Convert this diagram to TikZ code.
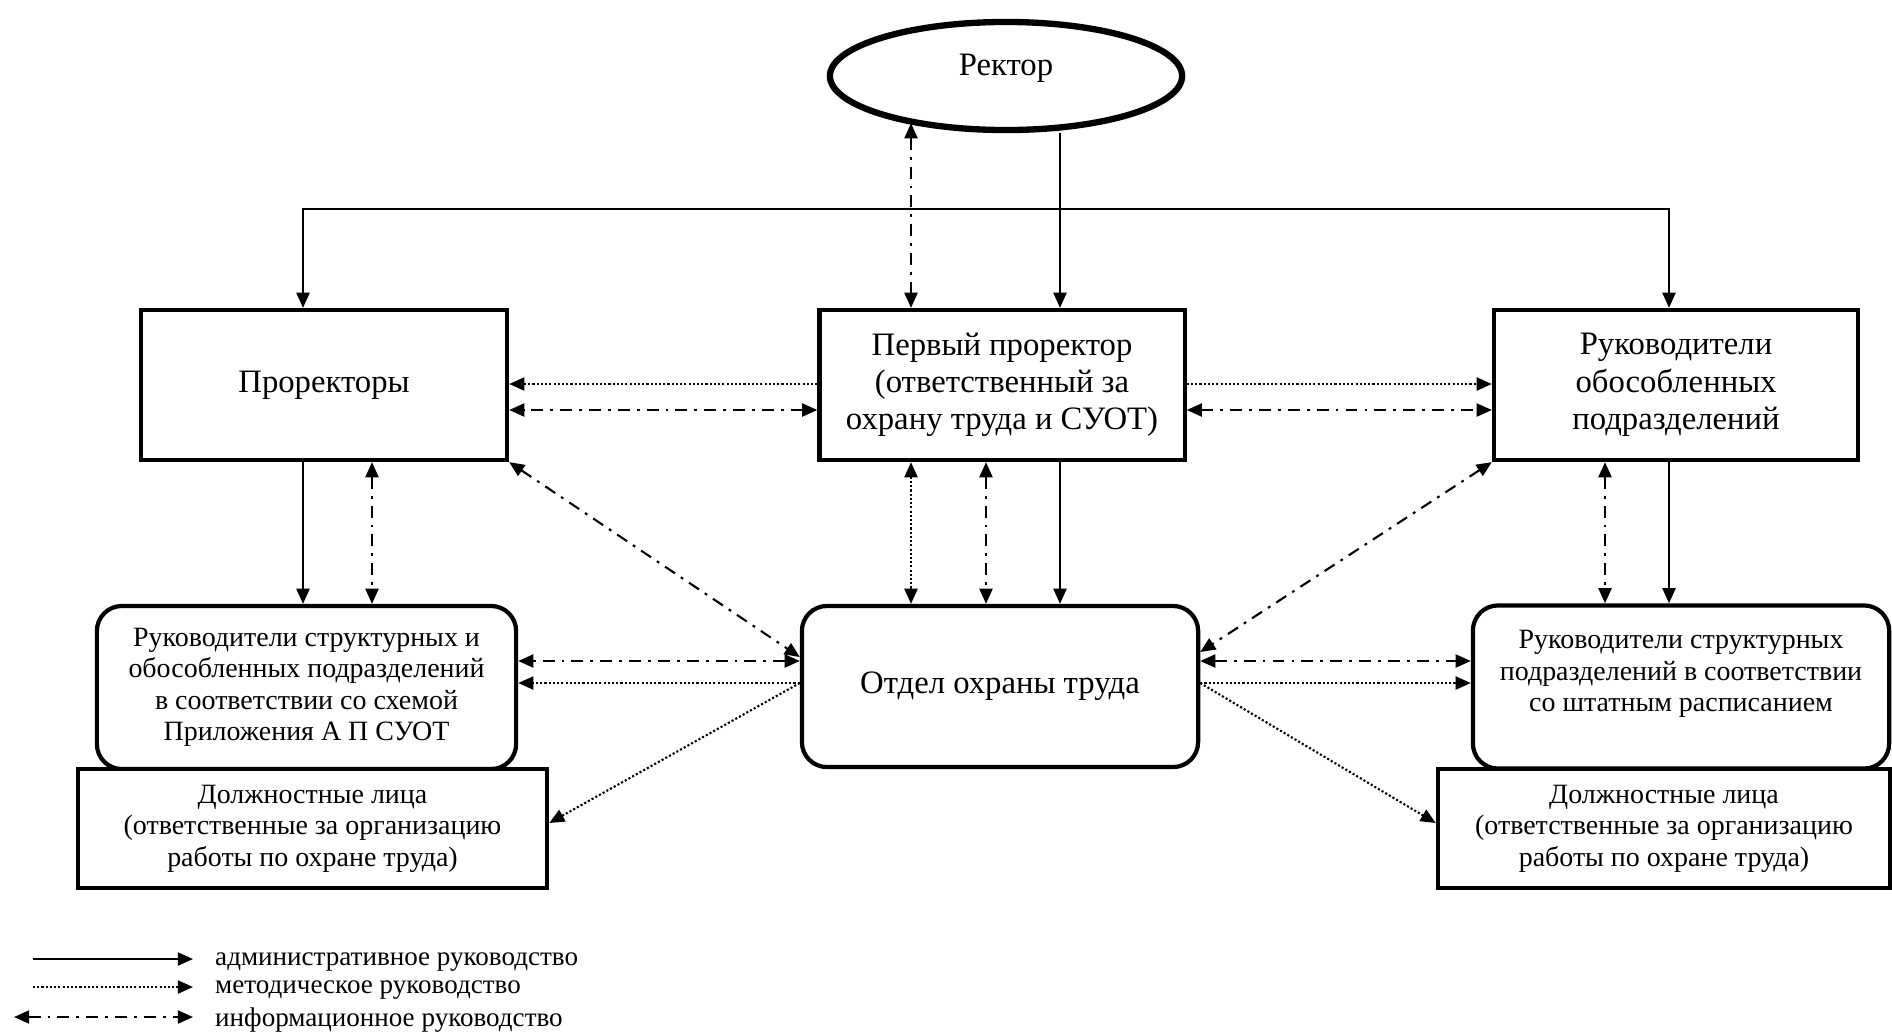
\documentclass[tikz,border=0pt]{standalone}
\usepackage{fontspec}
\setmainfont{Liberation Serif}
\usetikzlibrary{arrows.meta,shapes.geometric,positioning}
\tikzstyle{box}=[draw,rectangle,line width=1.2pt,fill=white,align=center,
  inner sep=2pt,font=\fontsize{9.3}{10.6}\selectfont]
\tikzstyle{sbox}=[box,font=\fontsize{7.95}{8.95}\selectfont]
\tikzstyle{rbox}=[sbox,rounded corners=.25cm]
\tikzstyle{adm}=[line width=.6pt]
\tikzstyle{meth}=[adm,dash pattern=on .6pt off .6pt]
\tikzstyle{inf}=[adm,dash pattern=on 3.4pt off 2pt on .8pt off 2pt]
\tikzstyle{lgd}=[inner sep=1pt,yshift=-.03cm,font=\fontsize{7.7}{9}\selectfont]

\begin{document}
\begin{tikzpicture}[>={Triangle[length=4.3pt,width=3.7pt]}, x=.01cm, y=-.01cm]
  \useasboundingbox (0,0) rectangle (1892,1033);

  \node[draw,ellipse,line width=1.8pt,minimum width=3.52cm,minimum height=1.08cm,
    font=\fontsize{9.3}{10.6}\selectfont,text depth=.22cm] (rector) at (1006,76) {Ректор};

  \node[box,minimum width=3.66cm,minimum height=1.5cm] (pro) at (324,385) {Проректоры};
  \node[box,minimum width=3.65cm,minimum height=1.5cm] (first) at (1002,385)
  {Первый проректор\\(ответственный за\\охрану труда и СУОТ)};
  \node[box,minimum width=3.64cm,minimum height=1.5cm] (sep) at (1676,385)
  {Руководители\\обособленных\\подразделений};

  \node[box,rounded corners=.25cm,minimum width=3.96cm,minimum height=1.61cm] (otdel)
  at (1000,686.5) {Отдел охраны труда};
  \node[rbox,minimum width=4.19cm,minimum height=1.63cm] (lruk) at (306.5,687.5)
  {Руководители структурных и\\обособленных подразделений\\в соответствии со схемой\\Приложения А П СУОТ};
  \node[sbox,minimum width=4.69cm,minimum height=1.19cm] (ldol) at (312.5,828.5)
  {Должностные лица\\(ответственные за организацию\\работы по охране труда)};
  \node[rbox,minimum width=4.16cm,minimum height=1.63cm] (rruk) at (1681,687)
  {Руководители структурных\\подразделений в соответствии\\со штатным расписанием\\ \mbox{}};
  \node[sbox,minimum width=4.52cm,minimum height=1.19cm] (rdol) at (1664,828.5)
  {Должностные лица\\(ответственные за организацию\\работы по охране труда)};

  % columns and rows of the connectors
  \coordinate (bus) at (1060,209);
  \coordinate (ca) at (911,0);
  \coordinate (cb) at (1060,0);
  \coordinate (cc) at (986,0);
  \coordinate (cd) at (303,0);
  \coordinate (ce) at (372,0);
  \coordinate (cf) at (1669,0);
  \coordinate (cg) at (1605,0);
  \coordinate (r1) at (0,384);
  \coordinate (r2) at (0,410);
  \coordinate (r3) at (0,661);
  \coordinate (r4) at (0,683);
  \coordinate (d1) at (0,657);
  \coordinate (d2) at (0,652);
  \coordinate (d3) at (0,823);

  \draw[adm,<->] (pro.north -| cd) |- (bus) -| (sep.north -| cf);
  \draw[adm,->] (rector.south -| cb) -- (first.north -| cb);
  \draw[inf,<->] (rector.205 -| ca) -- (first.north -| ca);

  \draw[meth,->] (first.west |- r1) -- (pro.east |- r1);
  \draw[inf,<->] (first.west |- r2) -- (pro.east |- r2);
  \draw[meth,->] (first.east |- r1) -- (sep.west |- r1);
  \draw[inf,<->] (first.east |- r2) -- (sep.west |- r2);

  \draw[adm,->] (pro.south -| cd) -- (lruk.north -| cd);
  \draw[inf,<->] (pro.south -| ce) -- (lruk.north -| ce);
  \draw[meth,<->] (first.south -| ca) -- (otdel.north -| ca);
  \draw[inf,<->] (first.south -| cc) -- (otdel.north -| cc);
  \draw[adm,->] (first.south -| cb) -- (otdel.north -| cb);
  \draw[inf,<->] (sep.south -| cg) -- (rruk.north -| cg);
  \draw[adm,->] (sep.south -| cf) -- (rruk.north -| cf);

  \draw[inf,<->] (pro.south east) -- (otdel.west |- d1);
  \draw[inf,<->] (sep.south west) -- (otdel.east |- d2);
  \draw[inf,<->] (otdel.west |- r3) -- (lruk.east |- r3);
  \draw[meth,->] (otdel.west |- r4) -- (lruk.east |- r4);
  \draw[meth,->] (otdel.west |- r4) -- (ldol.east |- d3);
  \draw[inf,<->] (otdel.east |- r3) -- (rruk.west |- r3);
  \draw[meth,->] (otdel.east |- r4) -- (rruk.west |- r4);
  \draw[meth,->] (otdel.east |- r4) -- (rdol.west |- d3);

  % legend
  \coordinate (l1) at (33,959);
  \coordinate (l1e) at (193,959);
  \coordinate (l2) at (33,987);
  \coordinate (l2e) at (193,987);
  \coordinate (l3) at (14,1017);
  \coordinate (l3e) at (193,1017);
  \draw[adm,->] (l1) -- (l1e);
  \draw[meth,->] (l2) -- (l2e);
  \draw[inf,<->] (l3) -- (l3e);
  \node[lgd,right=.18cm of l1e] (t1) {административное руководство};
  \node[lgd,right=.18cm of l2e] (t2) {методическое руководство};
  \node[lgd,right=.18cm of l3e] (t3) {информационное руководство};
\end{tikzpicture}
\end{document}
